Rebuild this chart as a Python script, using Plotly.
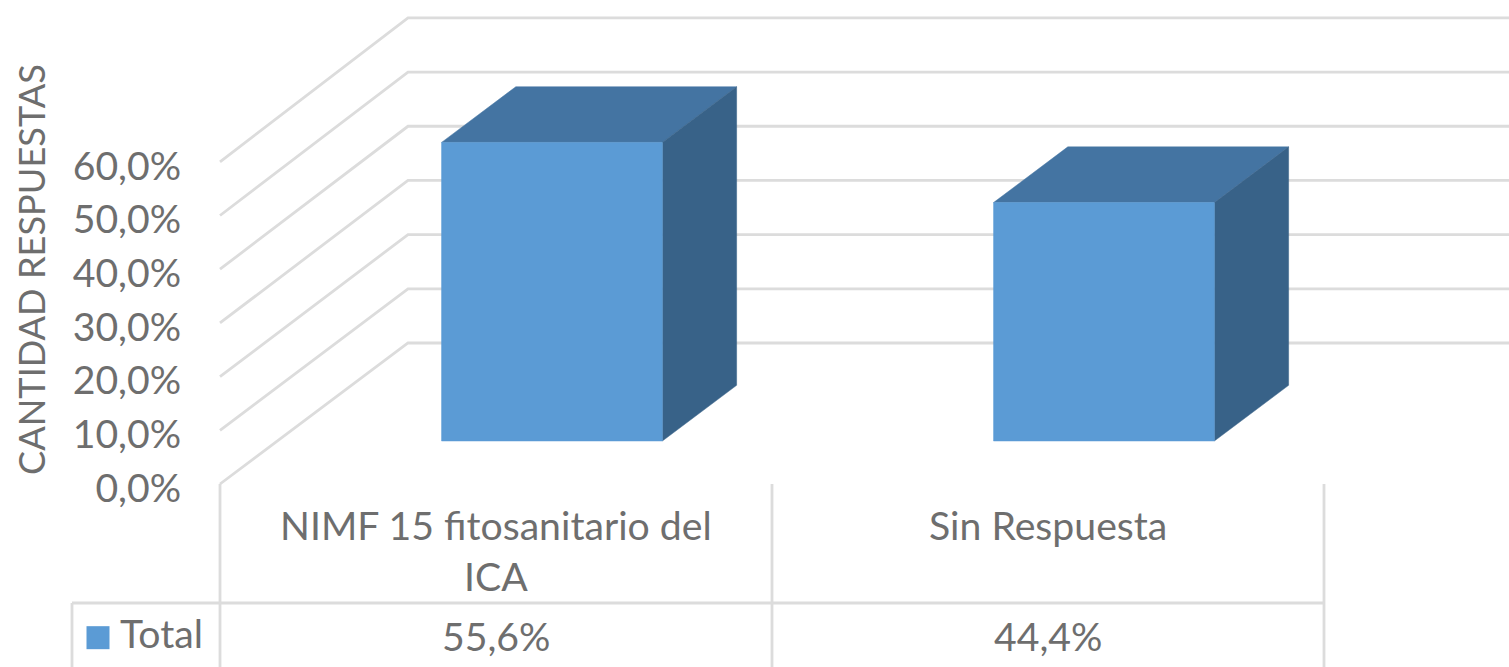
import plotly.graph_objects as go

categories = ["NIMF 15 fitosanitario del<br>ICA", "Sin Respuesta"]
series_name = "Total"
values = [55.6, 44.4]
value_labels = ["55,6%", "44,4%"]
y_ticks = [0, 10, 20, 30, 40, 50, 60]
y_tick_labels = ["0,0%", "10,0%", "20,0%", "30,0%", "40,0%", "50,0%", "60,0%"]
y_title = "CANTIDAD RESPUESTAS"

W, H = 1509, 667
LEFT, ZERO_PX = 220, 484
CAT_PX, UNIT_PX = 552, 5.37
DX = 188 / CAT_PX
DY = 141 / UNIT_PX
WALL_SCALE = 1.009
FONT = "Lato"
TXT = "#6e6e6e"
GRID = "#dcdcdc"
FS = 39.2
XMIN = -LEFT / CAT_PX
XMAX = (W - LEFT) / CAT_PX
YMIN, YMAX = (ZERO_PX - H) / UNIT_PX, ZERO_PX / UNIT_PX
ROW1 = (ZERO_PX - 527) / UNIT_PX
ROW_SPLIT = (ZERO_PX - 603) / UNIT_PX
ROW_TOTAL = (ZERO_PX - 635) / UNIT_PX


def proj(x, v, d):
    return x + d * DX, v + d * DY


fig = go.Figure()


def line(xs, ys, color=GRID, w=2.8):
    fig.add_trace(go.Scatter(x=xs, y=ys, mode="lines", line=dict(color=color, width=w),
                             hoverinfo="skip", showlegend=False))


def poly(pts, color):
    fig.add_trace(go.Scatter(x=[p[0] for p in pts] + [pts[0][0]], y=[p[1] for p in pts] + [pts[0][1]],
                             mode="lines", fill="toself", fillcolor=color, line=dict(color=color, width=0.5),
                             hoverinfo="skip", showlegend=False))


# walls
for t in y_ticks:
    x0, y0 = proj(0, t, 0)
    x1, y1 = proj(0, t * WALL_SCALE, 1)
    line([x0, x1, XMAX], [y0, y1, y1])

# data table
n = len(categories)
for i in range(n + 1):
    line([i, i], [0, YMIN])
line([-148 / CAT_PX, n], [ROW_SPLIT, ROW_SPLIT])
line([-148 / CAT_PX, -148 / CAT_PX], [ROW_SPLIT, YMIN])

# bars
BAR_W = 0.4
BAR_C = 0.4975
D0, D1 = 0.305, 0.70
BLUE, TOP, SIDE = "#5b9bd5", "#4474a2", "#386288"
for i, v in enumerate(values):
    xl, xr = i + BAR_C - BAR_W / 2, i + BAR_C + BAR_W / 2
    poly([proj(xl, v, D0), proj(xr, v, D0), proj(xr, v, D1), proj(xl, v, D1)], TOP)
    poly([proj(xr, 0, D0), proj(xr, v, D0), proj(xr, v, D1), proj(xr, 0, D1)], SIDE)
    poly([proj(xl, 0, D0), proj(xr, 0, D0), proj(xr, v, D0), proj(xl, v, D0)], BLUE)

# table text
for i, (c, lab) in enumerate(zip(categories, value_labels)):
    fig.add_annotation(x=i + 0.5, y=ROW1, text=c, showarrow=False, yanchor="top", yshift=28,
                       font=dict(family=FONT, size=FS, color=TXT), align="center")
    fig.add_annotation(x=i + 0.5, y=ROW_TOTAL, text=lab, showarrow=False,
                       font=dict(family=FONT, size=FS, color=TXT))

# legend key in the table
key_x = -122 / CAT_PX
fig.add_trace(go.Scatter(x=[key_x], y=[ROW_TOTAL - 0.5], mode="markers",
                         marker=dict(symbol="square", size=23, color=BLUE),
                         hoverinfo="skip", showlegend=False))
fig.add_annotation(x=-102 / CAT_PX, y=ROW_TOTAL, text=series_name, xanchor="left", showarrow=False, yshift=3,
                   font=dict(family=FONT, size=FS, color=TXT))

fig.add_annotation(x=-189 / CAT_PX, y=(ZERO_PX - 270) / UNIT_PX, text=y_title, textangle=-90, showarrow=False,
                   font=dict(family=FONT, size=36.2, color=TXT))

fig.update_layout(
    width=W, height=H, autosize=False, showlegend=False,
    margin=dict(l=0, r=0, t=0, b=0),
    paper_bgcolor="white", plot_bgcolor="white",
    xaxis=dict(range=[XMIN, XMAX], visible=False, fixedrange=True),
    yaxis=dict(range=[YMIN, YMAX], tickvals=y_ticks, ticktext=y_tick_labels, showgrid=False,
               anchor="free", position=LEFT / W,
               zeroline=False, showline=False, ticks="outside", ticklen=31, tickcolor="rgba(0,0,0,0)",
               ticklabelshift=4,
               tickfont=dict(family=FONT, size=FS, color=TXT), fixedrange=True),
)
fig.write_html("out.html", config=dict(displayModeBar=False),
               post_script="document.body.style.margin='0';document.body.style.overflow='hidden';")
